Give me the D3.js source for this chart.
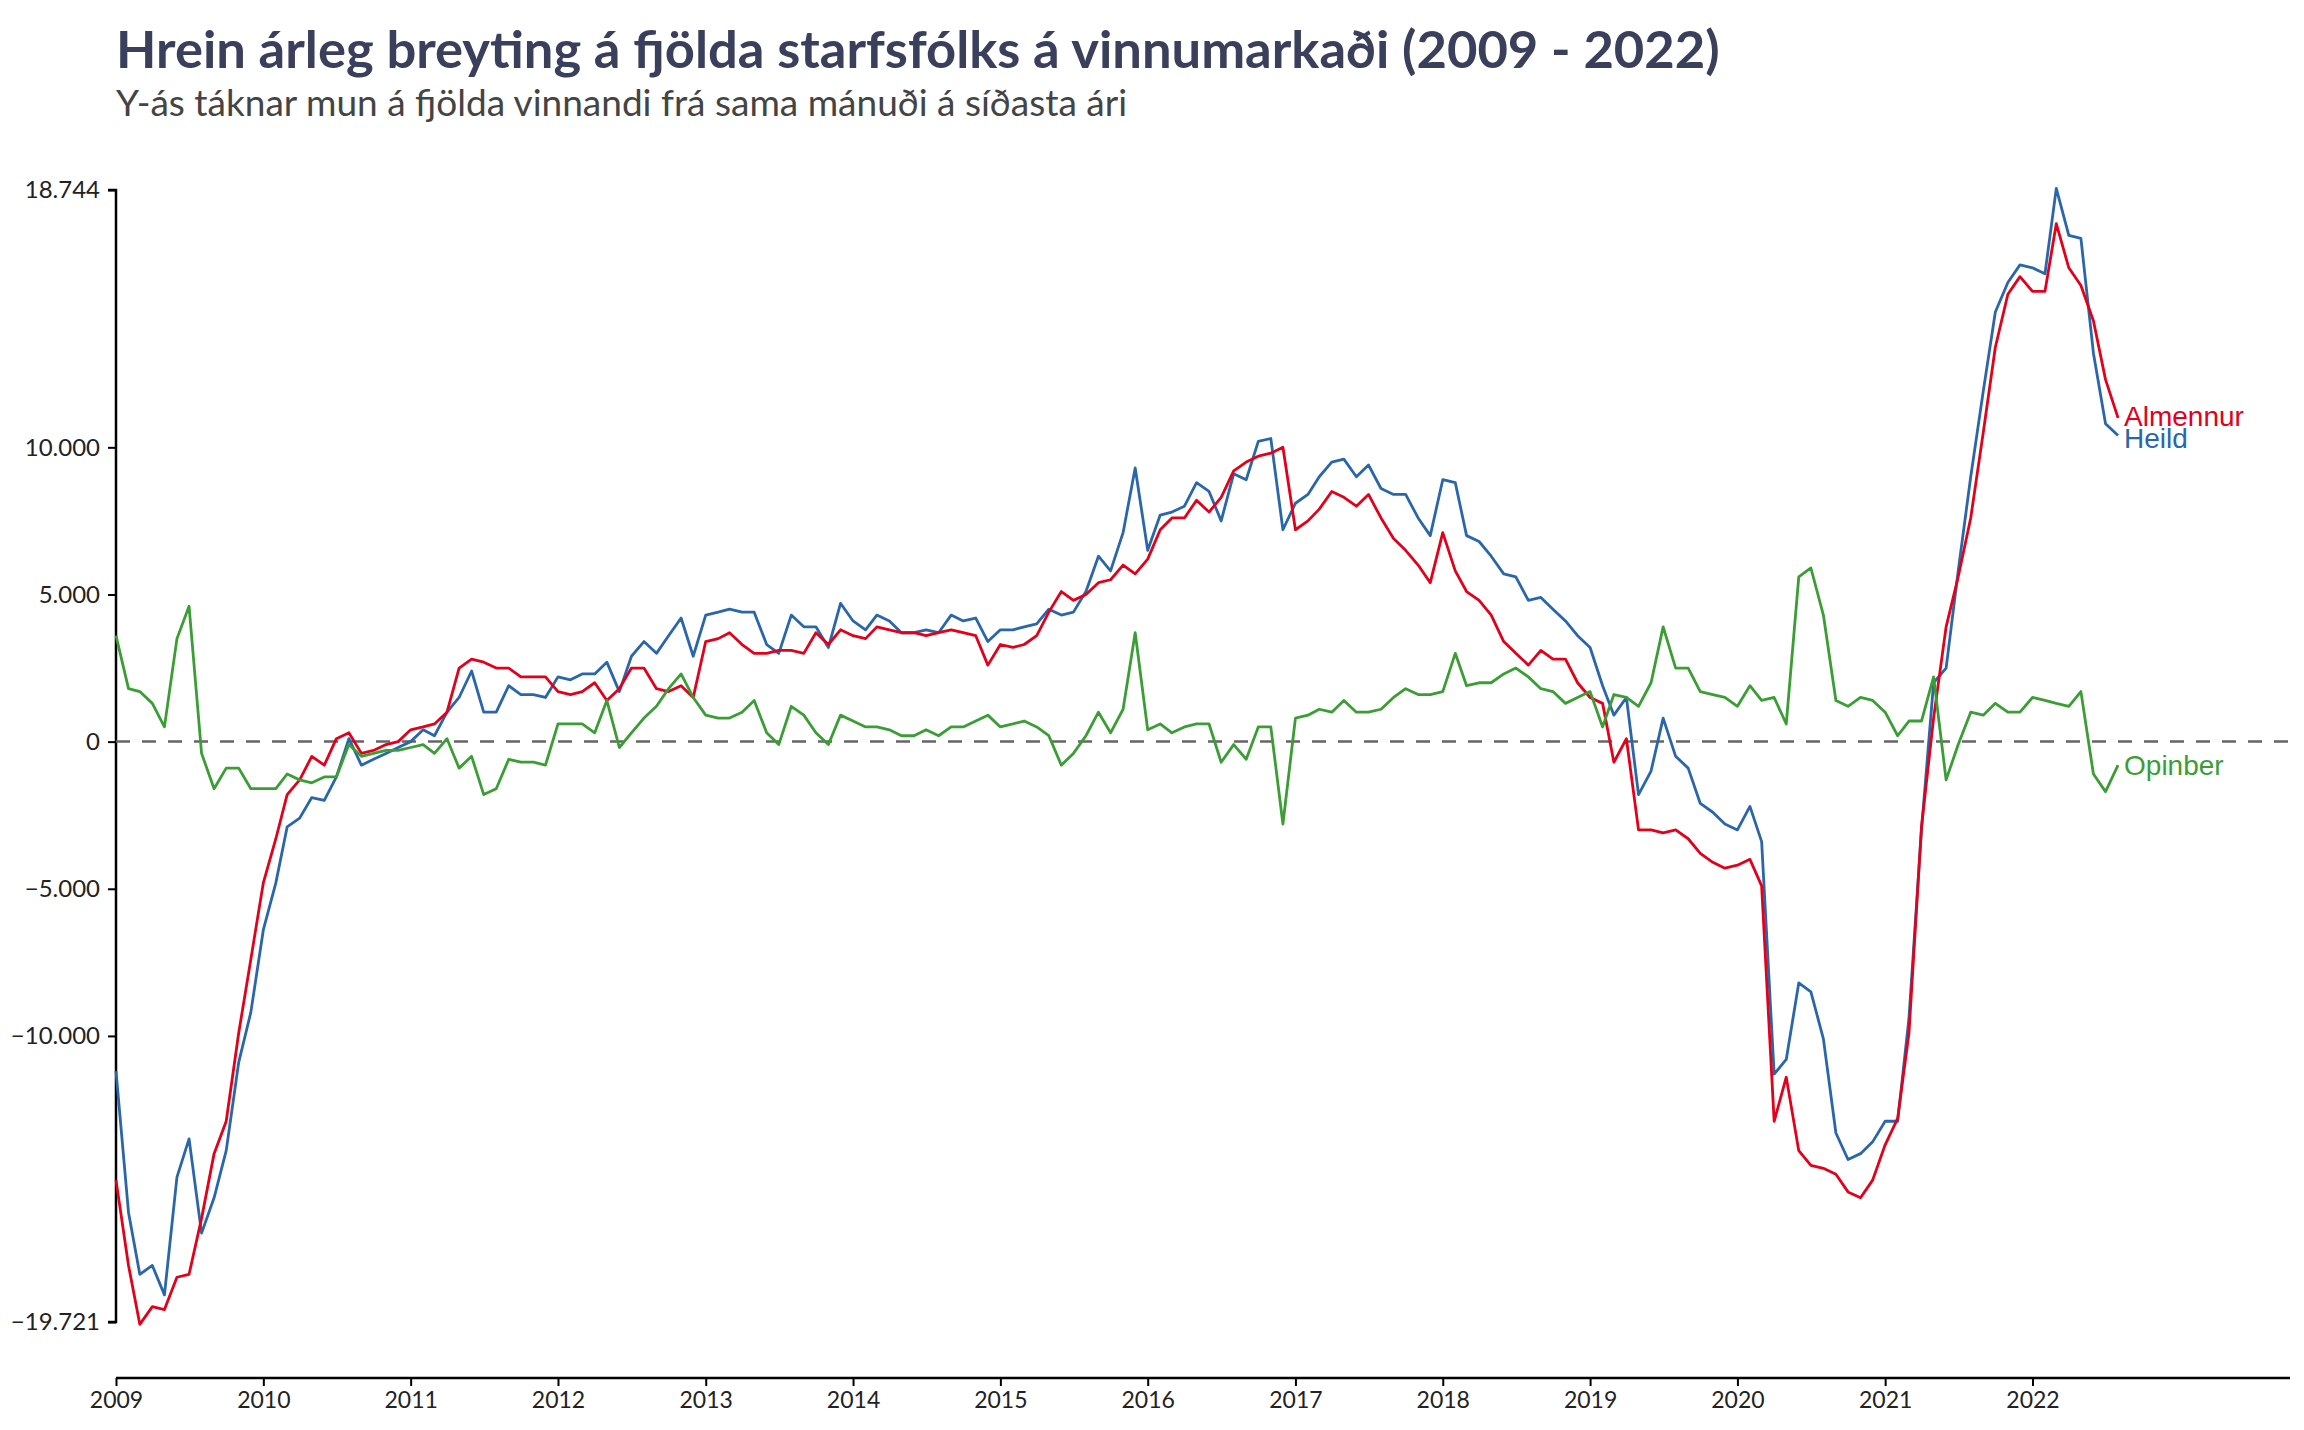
<!DOCTYPE html>
<html><head><meta charset="utf-8">
<script src="https://cdn.jsdelivr.net/npm/d3@7"></script>
<style>body{margin:0;background:#fff}svg{display:block}</style>
</head><body>
<svg id="c" width="2304" height="1430"></svg>
<script>
const startYear = 2009;
const heild = [-11.2,-16,-18.1,-17.8,-18.8,-14.8,-13.5,-16.7,-15.5,-13.9,-10.9,-9.2,
-6.4,-4.8,-2.9,-2.6,-1.9,-2.0,-1.2,0.1,-0.8,-0.6,-0.4,-0.2,
0.0,0.4,0.2,1.0,1.5,2.4,1.0,1.0,1.9,1.6,1.6,1.5,
2.2,2.1,2.3,2.3,2.7,1.7,2.9,3.4,3.0,3.6,4.2,2.9,
4.3,4.4,4.5,4.4,4.4,3.3,3.0,4.3,3.9,3.9,3.2,4.7,
4.1,3.8,4.3,4.1,3.7,3.7,3.8,3.7,4.3,4.1,4.2,3.4,
3.8,3.8,3.9,4.0,4.5,4.3,4.4,5.1,6.3,5.8,7.1,9.3,
6.5,7.7,7.8,8.0,8.8,8.5,7.5,9.1,8.9,10.2,10.3,7.2,
8.1,8.4,9.0,9.5,9.6,9.0,9.4,8.6,8.4,8.4,7.6,7.0,
8.9,8.8,7.0,6.8,6.3,5.7,5.6,4.8,4.9,4.5,4.1,3.6,
3.2,1.9,0.9,1.5,-1.8,-1.0,0.8,-0.5,-0.9,-2.1,-2.4,-2.8,
-3.0,-2.2,-3.4,-11.3,-10.8,-8.2,-8.5,-10.1,-13.3,-14.2,-14.0,-13.6,
-12.9,-12.9,-9.4,-3.0,2.0,2.5,5.8,9.0,11.9,14.6,15.6,16.2,
16.1,15.9,18.8,17.2,17.1,13.2,10.8,10.4];
const almennur = [-14.9,-17.8,-19.8,-19.2,-19.3,-18.2,-18.1,-16.2,-14.0,-12.9,-9.9,-7.4,
-4.8,-3.3,-1.8,-1.3,-0.5,-0.8,0.1,0.3,-0.4,-0.3,-0.1,0.0,
0.4,0.5,0.6,1.0,2.5,2.8,2.7,2.5,2.5,2.2,2.2,2.2,
1.7,1.6,1.7,2.0,1.4,1.8,2.5,2.5,1.8,1.7,1.9,1.5,
3.4,3.5,3.7,3.3,3.0,3.0,3.1,3.1,3.0,3.7,3.3,3.8,
3.6,3.5,3.9,3.8,3.7,3.7,3.6,3.7,3.8,3.7,3.6,2.6,
3.3,3.2,3.3,3.6,4.4,5.1,4.8,5.0,5.4,5.5,6.0,5.7,
6.2,7.2,7.6,7.6,8.2,7.8,8.3,9.2,9.5,9.7,9.8,10.0,
7.2,7.5,7.9,8.5,8.3,8.0,8.4,7.6,6.9,6.5,6.0,5.4,
7.1,5.8,5.1,4.8,4.3,3.4,3.0,2.6,3.1,2.8,2.8,2.0,
1.5,1.3,-0.7,0.1,-3.0,-3.0,-3.1,-3.0,-3.3,-3.8,-4.1,-4.3,
-4.2,-4.0,-4.9,-12.9,-11.4,-13.9,-14.4,-14.5,-14.7,-15.3,-15.5,-14.9,
-13.7,-12.8,-9.9,-2.9,0.8,3.9,5.6,7.6,10.5,13.4,15.2,15.8,
15.3,15.3,17.6,16.1,15.5,14.3,12.3,11.0];
const opinber = [3.6,1.8,1.7,1.3,0.5,3.5,4.6,-0.4,-1.6,-0.9,-0.9,-1.6,
-1.6,-1.6,-1.1,-1.3,-1.4,-1.2,-1.2,-0.1,-0.5,-0.4,-0.3,-0.3,
-0.2,-0.1,-0.4,0.1,-0.9,-0.5,-1.8,-1.6,-0.6,-0.7,-0.7,-0.8,
0.6,0.6,0.6,0.3,1.4,-0.2,0.3,0.8,1.2,1.8,2.3,1.5,
0.9,0.8,0.8,1.0,1.4,0.3,-0.1,1.2,0.9,0.3,-0.1,0.9,
0.7,0.5,0.5,0.4,0.2,0.2,0.4,0.2,0.5,0.5,0.7,0.9,
0.5,0.6,0.7,0.5,0.2,-0.8,-0.4,0.2,1.0,0.3,1.1,3.7,
0.4,0.6,0.3,0.5,0.6,0.6,-0.7,-0.1,-0.6,0.5,0.5,-2.8,
0.8,0.9,1.1,1.0,1.4,1.0,1.0,1.1,1.5,1.8,1.6,1.6,
1.7,3.0,1.9,2.0,2.0,2.3,2.5,2.2,1.8,1.7,1.3,1.5,
1.7,0.5,1.6,1.5,1.2,2.0,3.9,2.5,2.5,1.7,1.6,1.5,
1.2,1.9,1.4,1.5,0.6,5.6,5.9,4.3,1.4,1.2,1.5,1.4,
1.0,0.2,0.7,0.7,2.2,-1.3,-0.1,1.0,0.9,1.3,1.0,1.0,
1.5,1.4,1.3,1.2,1.7,-1.1,-1.7,-0.8];
const yTicks = [18744,10000,5000,0,-5000,-10000,-19721];
const xTickYears = d3.range(2009, 2023);
const seriesNames = ["Almennur","Heild","Opinber"];
const seriesColors = ["#e3001b","#2a66aa","#3a9e35"];

const svg = d3.select("#c");
const L=116, R=2290, T=190, B=1322, AX=1378;
const x = d3.scaleTime().domain([new Date(2009,0,1), new Date(2023,9,1)]).range([L,R]);
const y = d3.scaleLinear().domain([-19721,18744]).range([B,T]);
const fmt = v => d3.format(",")(v).replace(/,/g,".");

svg.append("text").attr("x",116).attr("y",68).attr("font-family","Lato").attr("font-weight","bold")
  .attr("font-size",52.5).attr("fill","#3a3f5c").text("Hrein árleg breyting á fjölda starfsfólks á vinnumarkaði (2009 - 2022)");
svg.append("text").attr("x",116).attr("y",116).attr("font-family","Lato")
  .attr("font-size",37).attr("fill","#444").text("Y-ás táknar mun á fjölda vinnandi frá sama mánuði á síðasta ári");

const ya = svg.append("g").attr("transform",`translate(${L},0)`)
  .call(d3.axisLeft(y).tickValues(yTicks).tickFormat(fmt).tickSize(8).tickPadding(8));
ya.select(".domain").attr("stroke","#000").attr("stroke-width",2.5).attr("d",`M-8,${T}H0V${B}H-8`);
ya.selectAll("text").attr("font-family","Lato").attr("font-size",24).attr("fill","#222");
ya.selectAll("line").attr("stroke-width",2);

const xa = svg.append("g").attr("transform",`translate(0,${AX})`)
  .call(d3.axisBottom(x).tickValues(xTickYears.map(yy=>new Date(yy,0,1))).tickFormat(d3.timeFormat("%Y")).tickSize(8).tickPadding(6));
xa.select(".domain").attr("stroke","#000").attr("stroke-width",2.5).attr("d",`M${L},0H${R}`);
xa.selectAll("text").attr("font-family","Lato").attr("font-size",23).attr("fill","#222");
xa.selectAll("line").attr("stroke-width",2);

svg.append("line").attr("x1",L).attr("x2",R).attr("y1",y(0)).attr("y2",y(0))
  .attr("stroke","#666").attr("stroke-width",2.5).attr("stroke-dasharray","14,12");

const data = [almennur, heild, opinber];
const line = d3.line().x((d,i)=>x(new Date(startYear, i, 1))).y(d=>y(d*1000));
[1,0,2].forEach(k=>{
  svg.append("path").datum(data[k]).attr("d",line).attr("fill","none")
    .attr("stroke",seriesColors[k]).attr("stroke-width",2.8).attr("stroke-linejoin","round");
});
const labelDy=[8,12,10];
data.forEach((arr,k)=>{
  const n=arr.length-1;
  svg.append("text").attr("x",x(new Date(startYear,n,1))+6).attr("y",y(arr[n]*1000)+labelDy[k])
    .attr("font-family","Liberation Sans").attr("font-size",28).attr("fill",seriesColors[k]).text(seriesNames[k]);
});
</script></body></html>
